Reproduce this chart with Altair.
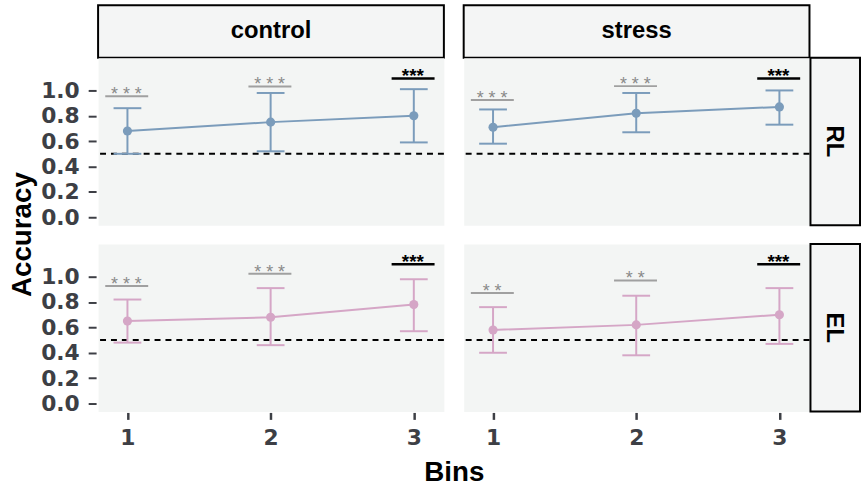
import altair as alt
import pandas as pd

# ---------------- data ----------------
bins = [1, 2, 3]

rl_control_mean = [0.68, 0.75, 0.80]
rl_control_lo = [0.50, 0.52, 0.59]
rl_control_hi = [0.86, 0.98, 1.01]
rl_control_sig = [0.955, 1.031, 1.094]
rl_control_stars = ["***", "***", "***"]

rl_stress_mean = [0.71, 0.82, 0.87]
rl_stress_lo = [0.58, 0.67, 0.73]
rl_stress_hi = [0.85, 0.98, 1.00]
rl_stress_sig = [0.924, 1.034, 1.094]
rl_stress_stars = ["***", "***", "***"]

el_control_mean = [0.65, 0.68, 0.78]
el_control_lo = [0.48, 0.46, 0.57]
el_control_hi = [0.82, 0.91, 0.98]
el_control_sig = [0.927, 1.023, 1.099]
el_control_stars = ["***", "***", "***"]

el_stress_mean = [0.58, 0.62, 0.70]
el_stress_lo = [0.40, 0.38, 0.47]
el_stress_hi = [0.76, 0.85, 0.91]
el_stress_sig = [0.872, 0.971, 1.099]
el_stress_stars = ["**", "**", "***"]

final_flags = [False, False, True]
chance_level = [0.5]

y_ticks = [0.0, 0.2, 0.4, 0.6, 0.8, 1.0]

# ---------------- style ----------------
FONT = "Liberation Sans"
TICK_FONT = "DejaVu Sans"
PW, PH = 349, 169
HDR_H = 53
RH_W = 50
COL_GAP, RH_GAP, ROW_GAP = 20, 1, 19
BG = "#f3f5f4"
HDR_BG = "#f4f5f5"
LABEL_COLOR = "#3d3f45"
BLUE = "#7b9cbb"
PINK = "#d5a6c6"
CAP = 0.097
SIG_L, SIG_R = 0.155, 0.145

xscale = alt.Scale(domain=[0.795, 3.21], nice=False, zero=False)
yscale = alt.Scale(domain=[-0.063, 1.258], nice=False, zero=False)

label_style = dict(labelFont=TICK_FONT, labelFontWeight="bold", labelFontSize=22,
                   labelColor=LABEL_COLOR, domain=False, grid=False,
                   titleFont=FONT, titleFontWeight="bold", titleFontSize=28,
                   titleColor="black")


def panel_df(mean, lo, hi, sig, stars):
    return pd.DataFrame({
        "bin": bins, "mean": mean, "lo": lo, "hi": hi,
        "sig": sig,
        "stars": [s if f else " ".join(list(s)) for s, f in zip(stars, final_flags)],
        "final": final_flags,
    })


def make_panel(df, color, show_y, show_x, ytitle=False, xtitle=False):
    base = alt.Chart(df)
    xaxis = None
    yaxis = None
    if show_x:
        xaxis = alt.Axis(values=bins, format="d", tickSize=7, tickWidth=2.5,
                         tickColor=LABEL_COLOR, offset=1, labelPadding=8,
                         title="Bins" if xtitle else None,
                         titleX=359, titleY=69, titleBaseline="alphabetic",
                         titleAlign="center", **label_style)
    if show_y:
        yaxis = alt.Axis(values=y_ticks, format=".1f", tickSize=8, tickWidth=2,
                         tickColor=LABEL_COLOR, offset=2, labelPadding=9,
                         title="Accuracy" if ytitle else None,
                         titleX=-66, titleY=178, titleBaseline="alphabetic",
                         titleAlign="center", titleAngle=270, **label_style)

    def xs(field):
        return alt.X(field, scale=xscale, axis=xaxis)

    def ys(field):
        return alt.Y(field, scale=yscale, axis=yaxis)

    chance = alt.Chart(pd.DataFrame({"c": chance_level})).mark_rule(
        color="black", strokeWidth=2, strokeDash=[6, 5]
    ).encode(y=ys("c:Q"))

    err = base.mark_rule(color=color, strokeWidth=2).encode(
        x=xs("bin:Q"), y=ys("lo:Q"), y2="hi:Q")
    caps = base.transform_calculate(
        xa=f"datum.bin - {CAP}", xb=f"datum.bin + {CAP}"
    ).transform_fold(["lo", "hi"], as_=["end", "yv"])
    cap = caps.mark_rule(color=color, strokeWidth=2).encode(
        x=xs("xa:Q"), x2="xb:Q", y=ys("yv:Q"))
    line = base.mark_line(color=color, strokeWidth=2).encode(
        x=xs("bin:Q"), y=ys("mean:Q"))
    pts = base.mark_circle(color=color, size=85, opacity=1).encode(
        x=xs("bin:Q"), y=ys("mean:Q"))

    sig_base = base.transform_calculate(
        xa=f"datum.bin - {SIG_L}", xb=f"datum.bin + {SIG_R}")
    sig_grey = sig_base.transform_filter("!datum.final").mark_rule(
        color="#a0a0a0", strokeWidth=2).encode(
        x=xs("xa:Q"), x2="xb:Q", y=ys("sig:Q"))
    sig_black = sig_base.transform_filter("datum.final").mark_rule(
        color="black", strokeWidth=2.5).encode(
        x=xs("xa:Q"), x2="xb:Q", y=ys("sig:Q"))
    txt_grey = base.transform_filter("!datum.final").mark_text(
        font=FONT, fontSize=18, color="#8a8a8a", baseline="alphabetic", dy=4, dx=-1
    ).encode(x=xs("bin:Q"), y=ys("sig:Q"), text="stars:N")
    txt_black = base.transform_filter("datum.final").mark_text(
        font=FONT, fontSize=19, fontWeight="bold", color="black",
        baseline="alphabetic", dy=4, dx=-1
    ).encode(x=xs("bin:Q"), y=ys("sig:Q"), text="stars:N")

    return alt.layer(
        chance, err, cap, line, pts,
        sig_grey, sig_black, txt_grey, txt_black
    ).properties(
        width=PW, height=PH,
        view=alt.ViewBackground(fill=BG, stroke="transparent")
    )


def col_header(label):
    return alt.Chart(pd.DataFrame({"label": [label]})).mark_text(
        font=FONT, fontSize=24, fontWeight="bold", color="black"
    ).encode(
        text="label:N", x=alt.value(PW / 2), y=alt.value(HDR_H / 2)
    ).properties(
        width=PW, height=HDR_H,
        view=alt.ViewBackground(fill=HDR_BG, stroke="black", strokeWidth=2)
    )


def row_header(label):
    return alt.Chart(pd.DataFrame({"label": [label]})).mark_text(
        font=FONT, fontSize=24, fontWeight="bold", color="black", angle=90
    ).encode(
        text="label:N", x=alt.value(24), y=alt.value(PH / 2)
    ).properties(
        width=RH_W, height=PH,
        view=alt.ViewBackground(fill=HDR_BG, stroke="black", strokeWidth=2)
    )


def spacer(w, h):
    return alt.Chart(pd.DataFrame({"s": [""]})).mark_text(
        opacity=0, fontSize=1, baseline="top", align="left"
    ).encode(
        text="s:N", x=alt.value(w / 2), y=alt.value(h / 2)
    ).properties(
        width=w, height=h,
        view=alt.ViewBackground(fill="transparent", stroke="transparent")
    )


p_rl_c = make_panel(panel_df(rl_control_mean, rl_control_lo, rl_control_hi,
                             rl_control_sig, rl_control_stars), BLUE, True, False, ytitle=True)
p_rl_s = make_panel(panel_df(rl_stress_mean, rl_stress_lo, rl_stress_hi,
                             rl_stress_sig, rl_stress_stars), BLUE, False, False)
p_el_c = make_panel(panel_df(el_control_mean, el_control_lo, el_control_hi,
                             el_control_sig, el_control_stars), PINK, True, True, xtitle=True)
p_el_s = make_panel(panel_df(el_stress_mean, el_stress_lo, el_stress_hi,
                             el_stress_sig, el_stress_stars), PINK, False, True)

cells = [
    col_header("control"), spacer(COL_GAP, HDR_H), col_header("stress"),
    spacer(RH_GAP, HDR_H), spacer(RH_W, HDR_H),

    p_rl_c, spacer(COL_GAP, PH), p_rl_s, spacer(RH_GAP, PH), row_header("RL"),

    spacer(PW, ROW_GAP), spacer(COL_GAP, ROW_GAP), spacer(PW, ROW_GAP),
    spacer(RH_GAP, ROW_GAP), spacer(RH_W, ROW_GAP),

    p_el_c, spacer(COL_GAP, PH), p_el_s, spacer(RH_GAP, PH), row_header("EL"),
]

chart = alt.concat(*cells, columns=5, spacing=0, bounds="flush").properties(
    padding={"left": 8, "top": 2, "right": 0, "bottom": 0},
    background="white",
).configure_axis(
    labelFont=TICK_FONT, labelFontWeight="bold", labelFontSize=22, labelColor=LABEL_COLOR,
    titleFont=FONT, titleFontWeight="bold", titleFontSize=28, titleColor="black",
)

chart.save("out.html", embed_options={"renderer": "svg", "actions": False})
